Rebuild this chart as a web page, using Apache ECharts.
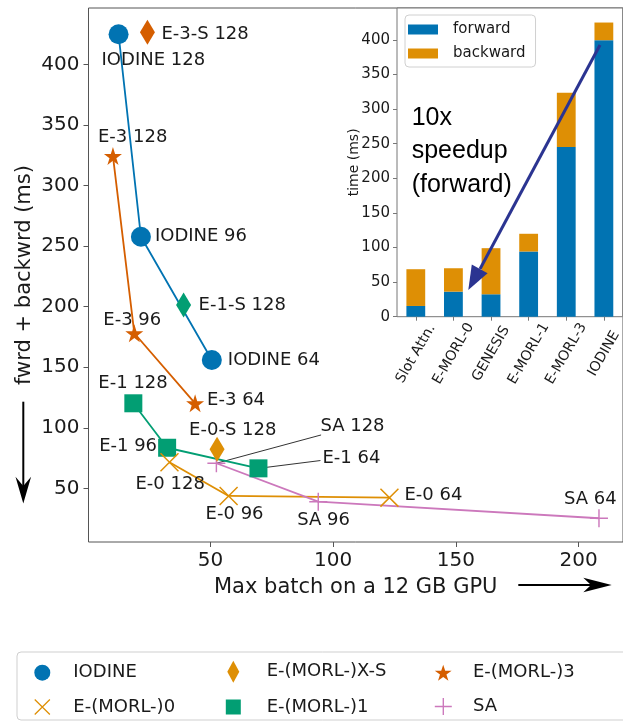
<!DOCTYPE html>
<html><head><meta charset="utf-8">
<script src="https://cdn.jsdelivr.net/npm/echarts@6/dist/echarts.min.js"></script>
<style>html,body{margin:0;padding:0;background:#fff}#c{width:623px;height:721px}</style>
</head><body><div id="c"></div>
<script>
// ---------------- data ----------------
const iodineBatch = [12.55, 21.66, 50.56];
const iodineTime  = [424.8, 257.7, 155.9];
const iodineLabels = ['IODINE 128', 'IODINE 96', 'IODINE 64'];

const e3Batch = [10.26, 18.97, 43.74];
const e3Time  = [324.3, 178.0, 120.2];
const e3Labels = ['E-3 128', 'E-3 96', 'E-3 64'];

const e1Batch = [18.57, 32.34, 69.55];
const e1Time  = [120.2, 83.5, 66.5];
const e1Labels = ['E-1 128', 'E-1 96', 'E-1 64'];

const e0Batch = [33.30, 57.39, 122.93];
const e0Time  = [71.5, 43.7, 42.3];
const e0Labels = ['E-0 128', 'E-0 96', 'E-0 64'];

const saBatch = [52.41, 93.92, 208.31];
const saTime  = [70.7, 39.0, 25.3];
const saLabels = ['SA 128', 'SA 96', 'SA 64'];

const xsBatch = [24.31, 39.04, 52.69];
const xsTime  = [426.4, 201.4, 82.2];
const xsLabels = ['E-3-S 128', 'E-1-S 128', 'E-0-S 128'];

const mainXTicks = [50, 100, 150, 200];
const mainYTicks = [50, 100, 150, 200, 250, 300, 350, 400];

const insetCategories = ['Slot Attn.', 'E-MORL-0', 'GENESIS', 'E-MORL-1', 'E-MORL-3', 'IODINE'];
const insetForward  = [15.5, 36.2, 32.4, 94.2, 245.0, 399.5];
const insetBackward = [53.1, 33.8, 66.6, 25.6, 78.7, 25.5];

// ---------------- styling / layout ----------------
const C = {blue:'#0173b2', orange:'#de8f05', green:'#029e73', red:'#d55e00', pink:'#cc78bc'};
const FONT = 'DejaVu Sans';
const TXT = '#1a1a1a';
const SPINE = '#555';
const STAR = 'path://M10,0 L12.245,6.910 L19.511,6.910 L13.633,11.180 L15.878,18.090 L10,13.82 L4.122,18.090 L6.367,11.180 L0.489,6.910 L7.755,6.910 Z';
const PLUS = 'path://M9.2,0H10.8V20H9.2Z M0,9.2H20V10.8H0Z';
const CROSS = 'path://M0,1.1L1.1,0L20,18.9L18.9,20Z M18.9,0L20,1.1L1.1,20L0,18.9Z';

const offIodine = [[-17, 26], [14, 0], [16, 0]];
const offE3 = [[-15, -19], [-31, -13], [12, -3]];
const offE1 = [[-35, -20], [-68, -1], [64, -10]];
const offE0 = [[-34, 22], [-23, 18], [15, -2]];
const offSA = [[104, -37], [-21, 19], [-35, -19]];
const offXS = [[14, 2], [15, 0], [-28, -19]];

function labelCfg(labels) {
  return {show: true, position: 'inside', align: 'left', verticalAlign: 'middle',
    formatter: p => labels[p.dataIndex], color: TXT, fontSize: 18, fontFamily: FONT};
}
function mkLine(name, xs, ys, labels, offs, color, symbol, size) {
  return {
    type: 'line', name, xAxisIndex: 0, yAxisIndex: 0,
    data: xs.map((x, i) => ({value: [x, ys[i]], label: {offset: offs[i]}})),
    symbol, symbolSize: size, showSymbol: true, showAllSymbol: true,
    lineStyle: {color, width: 1.8}, itemStyle: {color, opacity: 1},
    label: labelCfg(labels), emphasis: {disabled: true}, z: 3
  };
}

const series = [
  mkLine('IODINE', iodineBatch, iodineTime, iodineLabels, offIodine, C.blue, 'circle', 20),
  mkLine('E-(MORL-)3', e3Batch, e3Time, e3Labels, offE3, C.red, STAR, 18),
  mkLine('E-(MORL-)1', e1Batch, e1Time, e1Labels, offE1, C.green, 'rect', 18),
  mkLine('E-(MORL-)0', e0Batch, e0Time, e0Labels, offE0, C.orange, CROSS, 19),
  mkLine('SA', saBatch, saTime, saLabels, offSA, C.pink, PLUS, 18),
  {
    type: 'scatter', name: 'E-(MORL-)X-S', xAxisIndex: 0, yAxisIndex: 0,
    symbol: 'diamond', symbolSize: [15, 25],
    itemStyle: {color: C.orange, opacity: 1},
    data: xsBatch.map((x, i) => ({value: [x, xsTime[i]], label: {offset: offXS[i]},
      itemStyle: {color: [C.red, C.green, C.orange][i]}})),
    label: labelCfg(xsLabels), emphasis: {disabled: true}, z: 4
  },
  {type: 'bar', name: 'forward', xAxisIndex: 1, yAxisIndex: 1, stack: 't', barWidth: '50%',
    data: insetForward, itemStyle: {color: C.blue}, emphasis: {disabled: true}, z: 6},
  {type: 'bar', name: 'backward', xAxisIndex: 1, yAxisIndex: 1, stack: 't', barWidth: '50%',
    data: insetBackward, itemStyle: {color: C.orange}, emphasis: {disabled: true}, z: 6}
];

// legends (matplotlib-style 3 columns, 2 rows)
const legendItems = [
  {name: 'IODINE', icon: 'circle', w: 16, h: 16, cx: 42.3, cy: 671.7, tx: 73.3},
  {name: 'E-(MORL-)0', icon: CROSS, w: 16, h: 16, cx: 42.3, cy: 706, tx: 73.3},
  {name: 'E-(MORL-)X-S', icon: 'diamond', w: 12, h: 22, cx: 233.3, cy: 671.7, tx: 266.7},
  {name: 'E-(MORL-)1', icon: 'rect', w: 15, h: 15, cx: 233.3, cy: 706, tx: 266.7},
  {name: 'E-(MORL-)3', icon: STAR, w: 17, h: 16, cx: 443.3, cy: 671.7, tx: 473},
  {name: 'SA', icon: PLUS, w: 17, h: 17, cx: 443.3, cy: 706, tx: 473}
];
const legends = legendItems.map(it => {
  const left = it.cx - it.w / 2;
  return {
    data: [{name: it.name, icon: it.icon}], orient: 'vertical', selectedMode: false,
    left, top: it.cy - Math.max(it.h, 16) / 2, padding: 0,
    itemWidth: it.w, itemHeight: it.h,
    textStyle: {fontFamily: FONT, fontSize: 18, color: TXT, lineHeight: 16,
      padding: [0, 0, 0, it.tx - (left + it.w + 5)]}
  };
});
legends.push({
  data: [{name: 'forward', icon: 'rect'}, {name: 'backward', icon: 'rect'}],
  orient: 'vertical', selectedMode: false, left: 405, top: 15, z: 10,
  padding: [7, 10, 6, 3], itemWidth: 30, itemHeight: 10, itemGap: 9,
  borderColor: '#d0d0d0', borderWidth: 1, borderRadius: 4, backgroundColor: '#fff',
  textStyle: {fontFamily: FONT, fontSize: 15, color: TXT, padding: [0, 0, 0, 10]}
});

const option = {
  animation: false,
  backgroundColor: '#fff',
  grid: [
    {left: 88.5, top: 8, right: -8, bottom: 179, show: true, borderColor: SPINE, borderWidth: 1, backgroundColor: 'transparent', z: 0},
    {left: 397, top: 8, right: -9, bottom: 404.3, show: true, borderColor: '#777', borderWidth: 1, backgroundColor: '#fff', z: 1}
  ],
  xAxis: [
    {type: 'value', gridIndex: 0, min: 0.3, max: 218.1,
      axisLine: {show: false}, splitLine: {show: false},
      axisTick: {show: true, customValues: mainXTicks, length: 5, lineStyle: {color: SPINE}},
      axisLabel: {customValues: mainXTicks, fontSize: 20, color: TXT, fontFamily: FONT, margin: 9},
      name: 'Max batch on a 12 GB GPU', nameLocation: 'middle', nameGap: 35, nameMoveOverlap: false,
      nameTextStyle: {fontSize: 21, color: TXT, fontFamily: FONT}},
    {type: 'category', gridIndex: 1, data: insetCategories, z: 6,
      axisLine: {show: false}, splitLine: {show: false},
      axisTick: {show: true, alignWithLabel: true, length: 4, lineStyle: {color: '#777'}},
      axisLabel: {rotate: 60, interval: 0, fontSize: 14, color: TXT, fontFamily: FONT,
        margin: 37, align: 'center', verticalAlign: 'middle'}}
  ],
  yAxis: [
    {type: 'value', gridIndex: 0, min: 5.7, max: 446.5,
      axisLine: {show: false}, splitLine: {show: false},
      axisTick: {show: true, customValues: mainYTicks, length: 5, lineStyle: {color: SPINE}},
      axisLabel: {customValues: mainYTicks, fontSize: 20, color: TXT, fontFamily: FONT, margin: 9},
      name: 'fwrd + backwrd (ms)', nameLocation: 'middle', nameGap: 53, nameRotate: 90, nameMoveOverlap: false,
      nameTextStyle: {fontSize: 21, color: TXT, fontFamily: FONT}},
    {type: 'value', gridIndex: 1, min: 0, max: 446, interval: 50, z: 6,
      axisLine: {show: false}, splitLine: {show: false},
      axisTick: {show: true, length: 4, lineStyle: {color: '#777'}},
      axisLabel: {fontSize: 15, color: TXT, fontFamily: FONT, margin: 7, showMaxLabel: false},
      name: 'time (ms)', nameLocation: 'middle', nameGap: 36, nameRotate: 90, nameMoveOverlap: false,
      nameTextStyle: {fontSize: 14, color: TXT, fontFamily: FONT}}
  ],
  legend: legends,
  series,
  graphic: [
    {id: 'legframe', type: 'rect', shape: {x: 17, y: 652, width: 640, height: 68, r: 4},
      style: {fill: 'none', stroke: '#cfcfcf', lineWidth: 1}, z: 1},
    {id: 'yarrL', type: 'line', shape: {x1: 23.3, y1: 401.7, x2: 23.3, y2: 488}, style: {stroke: '#000', lineWidth: 2}},
    {id: 'yarrH', type: 'polygon', shape: {points: [[23.3, 503.5], [15.5, 476.7], [23.3, 486], [31.1, 476.7]]}, style: {fill: '#000'}},
    {id: 'xarrL', type: 'line', shape: {x1: 518.3, y1: 585, x2: 596, y2: 585}, style: {stroke: '#000', lineWidth: 2}},
    {id: 'xarrH', type: 'polygon', shape: {points: [[611.7, 585], [583.3, 577.8], [591, 585], [583.3, 592.2]]}, style: {fill: '#000'}},
    {id: 'barrL', type: 'line', shape: {x1: 600, y1: 45, x2: 480, y2: 269}, style: {stroke: '#2b3491', lineWidth: 3}, z: 20},
    {id: 'barrH', type: 'polygon', shape: {points: [[468.3, 290], [487.6, 273.2], [471.8, 264.6]]}, style: {fill: '#2b3491'}, z: 20},
    {id: 'speedTxt', type: 'text', x: 411.7, y: 101, z: 20,
      style: {text: '10x\nspeedup\n(forward)', font: '25px "Liberation Sans"', lineHeight: 33.5, fill: '#000'}}
  ]
};

const chart = echarts.init(document.getElementById('c'), null, {renderer: 'canvas'});
chart.setOption(option);

// leader lines from points to their moved labels
const leaders = [
  {x: saBatch[0], y: saTime[0], d: [104.7, -28.3]},
  {x: e1Batch[2], y: e1Time[2], d: [62, -7.8]}
];
chart.setOption({graphic: leaders.map((l, i) => {
  const p = chart.convertToPixel({xAxisIndex: 0, yAxisIndex: 0}, [l.x, l.y]);
  return {id: 'lead' + i, type: 'line', z: 1,
    shape: {x1: p[0], y1: p[1], x2: p[0] + l.d[0], y2: p[1] + l.d[1]},
    style: {stroke: '#333', lineWidth: 1}};
})});
</script>
</body></html>
